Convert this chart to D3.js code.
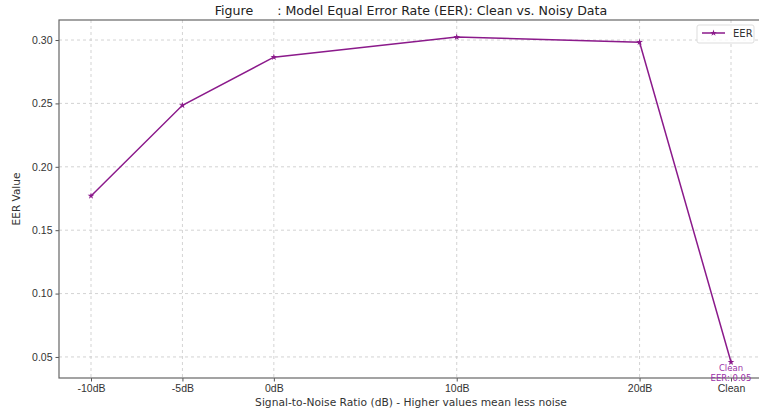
<!DOCTYPE html>
<head>
  <meta charset="utf-8">
  <script src="https://cdn.jsdelivr.net/npm/d3@7"></script>
  <style>
    body { margin:0; background:#fff; }
    svg { font-family: "DejaVu Sans", sans-serif; }
  </style>
</head>
<body>
  <script>
    // chart data
    var categories = ["-10dB", "-5dB", "0dB", "10dB", "20dB", "Clean"];
    var snrPos = [-10, -5, 0, 10, 20, 25]; // where each category sits on the axis
    var eerValues = [0.177, 0.2485, 0.2865, 0.3023, 0.2983, 0.046];
    var yTicks = [0.05, 0.10, 0.15, 0.20, 0.25, 0.30];

    var width = 759, height = 416;
    var plotL = 59, plotR = 763, plotT = 20, plotB = 378;
    var purple = "#8b1a8b";

    var svg = d3.select("body").append("svg")
      .attr("width", width).attr("height", height);

    var x = d3.scaleLinear().domain([-11.75, 26.75]).range([plotL, plotR]);
    var y = d3.scaleLinear().domain([0.0334, 0.3158]).range([plotB, plotT]);

    // grid
    svg.append("g").selectAll("line").data(snrPos).enter().append("line")
      .attr("x1", function (d) { return x(d); }).attr("x2", function (d) { return x(d); })
      .attr("y1", plotT).attr("y2", plotB)
      .attr("stroke", "#c8c8c8").attr("stroke-dasharray", "3,3").attr("stroke-width", 0.8);
    svg.append("g").selectAll("line").data(yTicks).enter().append("line")
      .attr("x1", plotL).attr("x2", plotR)
      .attr("y1", function (d) { return y(d); }).attr("y2", function (d) { return y(d); })
      .attr("stroke", "#c8c8c8").attr("stroke-dasharray", "3,3").attr("stroke-width", 0.8);

    // axes
    var xAxis = d3.axisBottom(x).tickValues(snrPos)
      .tickFormat(function (d, i) { return categories[i]; }).tickSize(3.5).tickPadding(3);
    var yAxis = d3.axisLeft(y).tickValues(yTicks)
      .tickFormat(d3.format(".2f")).tickSize(3.5).tickPadding(3);

    var gx = svg.append("g").attr("transform", "translate(0," + plotB + ")").call(xAxis);
    var gy = svg.append("g").attr("transform", "translate(" + plotL + ",0)").call(yAxis);
    [gx, gy].forEach(function (g) {
      g.select(".domain").remove();
      g.selectAll("line").attr("stroke", "#555");
      g.selectAll("text").attr("fill", "#333").style("font-size", "10.5px");
    });

    // spines
    svg.append("rect").attr("x", plotL).attr("y", plotT)
      .attr("width", plotR - plotL).attr("height", plotB - plotT)
      .attr("fill", "none").attr("stroke", "#666").attr("stroke-width", 1.2);

    // line + markers
    var pts = snrPos.map(function (d, i) { return [d, eerValues[i]]; });
    var line = d3.line().x(function (d) { return x(d[0]); }).y(function (d) { return y(d[1]); });
    svg.append("path").datum(pts).attr("d", line)
      .attr("fill", "none").attr("stroke", purple).attr("stroke-width", 1.5);
    var star = d3.symbol().type(d3.symbolStar).size(14);
    svg.append("g").selectAll("path").data(pts).enter().append("path")
      .attr("d", star)
      .attr("transform", function (d) { return "translate(" + x(d[0]) + "," + y(d[1]) + ")"; })
      .attr("fill", purple);

    // annotation on the clean point
    var last = pts[pts.length - 1];
    var ann = svg.append("text").attr("text-anchor", "middle")
      .attr("fill", "#9b30a8").style("font-size", "8.5px");
    ann.append("tspan").attr("x", x(last[0])).attr("y", y(last[1]) + 9).text("Clean");
    ann.append("tspan").attr("x", x(last[0])).attr("y", y(last[1]) + 19)
      .text("EER: " + d3.format(".2f")(last[1]));

    // title and labels
    svg.append("text").attr("x", (plotL + plotR) / 2).attr("y", 15)
      .attr("text-anchor", "middle").style("font-size", "12.6px").attr("fill", "#222")
      .attr("xml:space", "preserve")
      .text("Figure      : Model Equal Error Rate (EER): Clean vs. Noisy Data");
    svg.append("text").attr("x", (plotL + plotR) / 2).attr("y", 406)
      .attr("text-anchor", "middle").style("font-size", "10.7px").attr("fill", "#333")
      .text("Signal-to-Noise Ratio (dB) - Higher values mean less noise");
    svg.append("text").attr("transform", "translate(20," + (plotT + plotB) / 2 + ") rotate(-90)")
      .attr("text-anchor", "middle").style("font-size", "10.5px").attr("fill", "#333")
      .text("EER Value");

    // legend
    var lg = svg.append("g").attr("transform", "translate(697,25)");
    lg.append("rect").attr("width", 57).attr("height", 18).attr("rx", 2)
      .attr("fill", "#fff").attr("fill-opacity", 0.8).attr("stroke", "#ddd");
    lg.append("line").attr("x1", 5).attr("x2", 28).attr("y1", 8).attr("y2", 8)
      .attr("stroke", purple).attr("stroke-width", 1.5);
    lg.append("path").attr("d", star).attr("transform", "translate(16.5,8)").attr("fill", purple);
    lg.append("text").attr("x", 36).attr("y", 12).style("font-size", "10px").attr("fill", "#333").text("EER");
  </script>
</body>
</html>
